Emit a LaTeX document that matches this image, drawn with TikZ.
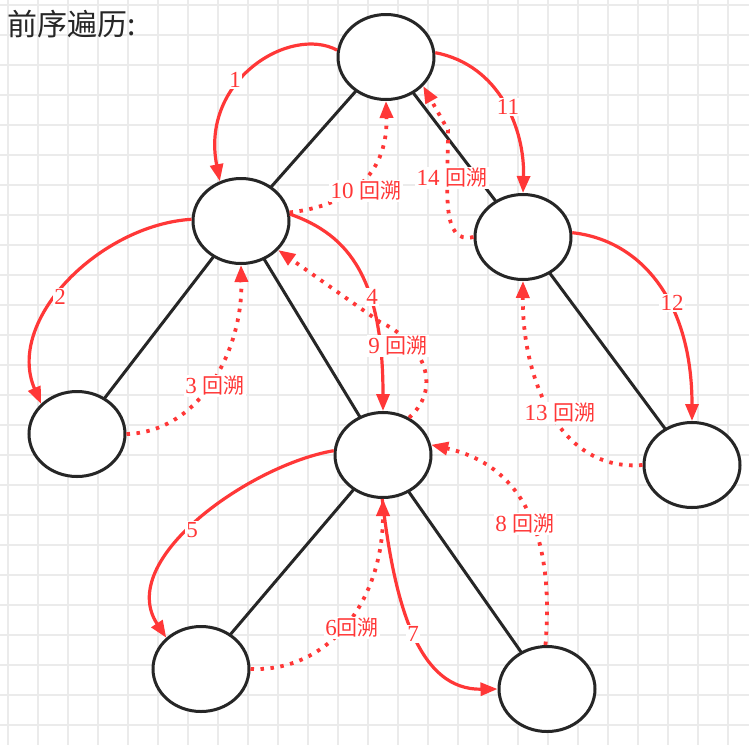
\documentclass[tikz,border=0pt]{standalone}
\usepackage{fontspec}
\setmainfont{Liberation Serif}
\newfontfamily\cjk{Noto Sans CJK SC}
\usetikzlibrary{shapes.geometric,arrows.meta}
\definecolor{rd}{RGB}{255,55,55}
\tikzset{
  tnode/.style={ellipse,draw=black!85,line width=3pt,fill=white,minimum width=96pt,minimum height=85pt,inner sep=0pt},
  tedge/.style={draw=black!85,line width=3pt},
  fwd/.style={draw=rd,line width=3.2pt,-{Triangle[length=17pt,width=13pt]}},
  back/.style={draw=rd,line width=3.8pt,dash pattern=on 3.5pt off 6.5pt,-{Triangle[length=17pt,width=13pt]}},
  lbl/.style={text=rd,fill=white,inner sep=1.5pt,font=\fontsize{23}{25}\selectfont}
}
\newcommand{\hs}{{\cjk\fontsize{21}{25}\selectfont 回溯}}
\begin{document}
\begin{tikzpicture}[x=1pt,y=-1pt]
\useasboundingbox (0,0) rectangle (749,745);
\fill[white] (0,0) rectangle (749,745);
\foreach \i in {0,30,...,749} \draw[black!8,line width=1.2pt] (\i+8,0) -- (\i+8,745);
\foreach \i in {0,30,...,745} \draw[black!8,line width=1.2pt] (0,\i+5) -- (749,\i+5);
\node[anchor=west,font=\cjk\fontsize{30}{32}\selectfont,text=black!85] (title) at (4,24) {前序遍历:};
\draw[tedge] (386,57) -- (241,221);
\draw[tedge] (386,57) -- (523,237);
\draw[tedge] (241,221) -- (77,434);
\draw[tedge] (241,221) -- (383,455);
\draw[tedge] (383,455) -- (201,669);
\draw[tedge] (383,455) -- (547,689);
\draw[tedge] (523,237) -- (692,465);
\node[tnode] (R) at (386,57) {};
\node[tnode] (A) at (241,221) {};
\node[tnode] (B) at (523,237) {};
\node[tnode] (C) at (77,434) {};
\node[tnode] (D) at (383,455) {};
\node[tnode] (E) at (692,465) {};
\node[tnode] (F) at (201,669) {};
\node[tnode] (G) at (547,689) {};
\coordinate (m9) at (380,322);
% forward arrows
\draw[fwd] (R.172) .. controls (290,25) and (200,80) .. (A.118);
\draw[fwd] (A.178) .. controls (100,225) and (5,320) .. (C.140);
\draw[fwd] (A.8) .. controls (350,235) and (383,280) .. (D.north);
\draw[fwd] (R.5) .. controls (500,65) and (525,130) .. (B.north);
\draw[fwd] (B.5) .. controls (640,240) and (692,300) .. (E.north);
\draw[fwd] (D.175) .. controls (250,465) and (115,560) .. (F.138);
\draw[fwd] (D.-91) .. controls (395,610) and (420,690) .. (G.west);
% back arrows
\draw[back] (C.0) .. controls (200,432) and (243,350) .. (A.south);
\draw[back] (D.55) .. controls (445,385) and (420,340) .. (m9) -- (A.-38);
\draw[back] (A.10) .. controls (355,205) and (388,170) .. (R.south);
\draw[back] (B.180) .. controls (440,245) and (448,190) .. (448,130) -- (R.-38);
\draw[back] (E.180) .. controls (560,472) and (522,380) .. (B.south);
\draw[back] (F.0) .. controls (330,672) and (383,600) .. (D.south);
\draw[back] (G.92) .. controls (555,530) and (520,465) .. (D.12);
% labels
\node[lbl] (l1) at (235,80) {1};
\node[lbl] (l2) at (60,297) {2};
\node[lbl] (l3) at (215,386) {3 \hs};
\node[lbl] (l4) at (372,297) {4};
\node[lbl] (l9) at (398,346) {9 \hs};
\node[lbl] (l10) at (366,191) {10 \hs};
\node[lbl] (l11) at (508,107) {11};
\node[lbl] (l14) at (452,178) {14 \hs};
\node[lbl] (l12) at (672,303) {12};
\node[lbl] (l13) at (560,413) {13 \hs};
\node[lbl] (l5) at (192,530) {5};
\node[lbl] (l6) at (352,628) {6\hs};
\node[lbl] (l7) at (413,634) {7};
\node[lbl] (l8) at (525,524) {8 \hs};
\end{tikzpicture}
\end{document}
